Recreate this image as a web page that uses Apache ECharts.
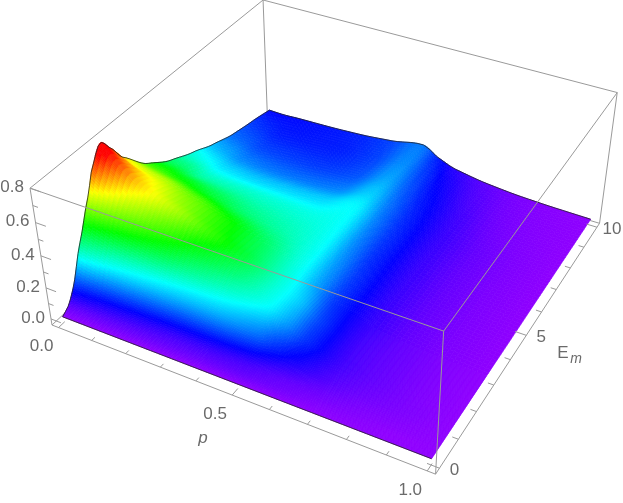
<!DOCTYPE html>
<html><head><meta charset="utf-8">
<style>html,body{margin:0;padding:0;background:#fff}#c{width:623px;height:503px}</style>
<script src="https://cdn.jsdelivr.net/npm/echarts@6/dist/echarts.min.js"></script>
</head><body><div id="c"></div>
<script>
const pValues=[0,.05,.1,.2,.3,.4,.5,.55,.6,.7,.8,.9,1];
const eValues=[0,.25,.5,1,1.5,1.8,2.2,2.6,3,4,5,6,7,8,9,10];
const zE0 =[0,0,0,0,0,0,0,0,0,0,0,0,0];
const zE025=[.03,.03,.03,.03,.03,.03,.03,.025,.02,.01,.005,0,0];
const zE05=[.10,.09,.08,.07,.06,.06,.05,.04,.03,.02,.01,.005,0];
const zE1 =[.33,.30,.27,.24,.22,.21,.17,.12,.085,.04,.02,.01,0];
const zE15=[.54,.50,.46,.40,.34,.30,.25,.19,.12,.05,.025,.01,0];
const zE18=[.68,.59,.53,.46,.39,.34,.26,.205,.125,.05,.025,.01,0];
const zE22=[.78,.68,.60,.52,.44,.37,.265,.215,.13,.05,.025,.01,0];
const zE26=[.70,.63,.58,.50,.43,.36,.265,.205,.125,.052,.025,.01,0];
const zE3 =[.60,.56,.54,.48,.42,.35,.26,.19,.12,.055,.025,.01,0];
const zE4 =[.44,.43,.41,.37,.33,.30,.255,.18,.12,.055,.025,.01,0];
const zE5 =[.34,.33,.30,.29,.28,.27,.25,.17,.115,.055,.025,.01,0];
const zE6 =[.27,.25,.23,.22,.22,.225,.245,.165,.115,.055,.025,.01,0];
const zE7 =[.205,.19,.17,.16,.16,.17,.215,.155,.11,.055,.025,.01,0];
const zE8 =[.155,.145,.13,.125,.125,.14,.19,.14,.10,.05,.02,.008,0];
const zE9 =[.125,.115,.105,.105,.11,.13,.175,.125,.085,.04,.016,.006,0];
const zE10=[.093,.09,.095,.10,.11,.13,.165,.105,.065,.03,.012,.004,0];
const zRows=[zE0,zE025,zE05,zE1,zE15,zE18,zE22,zE26,zE3,zE4,zE5,zE6,zE7,zE8,zE9,zE10];
const pTicks=[0,.1,.2,.3,.4,.5,.6,.7,.8,.9,1];
const eTicks=[0,1,2,3,4,5,6,7,8,9,10];
const zTicks=[0,.1,.2,.3,.4,.5,.6,.7,.8];
const pLabels=[[0,'0.0'],[.5,'0.5'],[1,'1.0']];
const eLabels=[[0,'0'],[5,'5'],[10,'10']];
const zLabels=[[0,'0.0'],[.2,'0.2'],[.4,'0.4'],[.6,'0.6'],[.8,'0.8']];

const zMaxColor=.73;
function project(p,E,z){
  const u=(p+.02)/1.04,v=(E+.2)/10.4,t=(z+.04)/.84;
  const w=1-.114*u+.212*v-.0705*t;
  return [(333.9*u+272.4*v-24.1*t+52)/w,(95.1*u-174.9*v-150.1*t+325)/w];
}
function cube(u,v,t){return project(u*1.04-.02,v*10.4-.2,t*.84-.04);}
function color(z){
  const tt=Math.max(0,Math.min(1,z/zMaxColor));
  const h=.76*(1-tt)*6,i=Math.floor(h),f=h-i;
  const q=Math.round(255*(1-f)),s=Math.round(255*f);
  const m=[[255,s,0],[q,255,0],[0,255,s],[0,q,255],[s,0,255],[255,0,q]][i%6];
  return 'rgb('+m.join(',')+')';
}
function slopes(xs,ys){
  return ys.map((y,i)=>{
    if(i===0)return (ys[1]-y)/(xs[1]-xs[0]);
    if(i===ys.length-1)return (y-ys[i-1])/(xs[i]-xs[i-1]);
    return .75*(ys[i+1]-ys[i-1])/(xs[i+1]-xs[i-1]);
  });
}
function herm(xs,ys,ms,x){
  let i=0;while(i<xs.length-2&&x>xs[i+1])i++;
  const h=xs[i+1]-xs[i],s=(x-xs[i])/h;
  return (2*s*s*s-3*s*s+1)*ys[i]+(s*s*s-2*s*s+s)*h*ms[i]+(-2*s*s*s+3*s*s)*ys[i+1]+(s*s*s-s*s)*h*ms[i+1];
}
const rowSlopes=zRows.map(r=>slopes(pValues,r));
const surfCache=new Map();
function surf(p,E){
  const key=p.toFixed(4)+'_'+E.toFixed(4);
  if(surfCache.has(key))return surfCache.get(key);
  const col=zRows.map((r,j)=>Math.max(0,herm(pValues,r,rowSlopes[j],p)));
  const v=Math.max(0,herm(eValues,col,slopes(eValues,col),E));
  surfCache.set(key,v);
  return v;
}
const cells=[];
for(let i=0;i<pValues.length-1;i++)for(let j=eValues.length-2;j>=0;j--)cells.push([i,j,zRows[j][i]]);
const chart=echarts.init(document.getElementById('c'),null,{renderer:'canvas'});
const lineStyle={stroke:'#9a9a9a',lineWidth:1,fill:null};
function seg(api,a,b,st){
  const A=api.coord(a),B=api.coord(b);
  return {type:'line',shape:{x1:A[0],y1:A[1],x2:B[0],y2:B[1]},style:st||lineStyle,silent:true};
}
function txt(api,pt,s,opt){
  const c=api.coord(pt);
  return {type:'text',x:c[0],y:c[1],style:Object.assign({text:s,fill:'#6a6a6a',font:'17px "Liberation Sans"',align:'center',verticalAlign:'middle'},opt||{}),silent:true};
}
const backSeries={type:'custom',coordinateSystem:'cartesian2d',z:1,data:[0],clip:false,renderItem(par,api){
  const L=[[0,0,0,0,1,0],[0,1,0,1,1,0],[0,1,0,0,1,1],[0,1,1,1,1,1],[0,1,1,0,0,1]];
  return {type:'group',children:L.map(s=>seg(api,cube(s[0],s[1],s[2]),cube(s[3],s[4],s[5])))};
}};
const surfaceSeries={type:'custom',coordinateSystem:'cartesian2d',z:2,clip:false,data:cells,progressive:0,renderItem(par,api){
  const i=api.value(0),j=api.value(1),p0=pValues[i],p1=pValues[i+1],e0=eValues[j],e1=eValues[j+1];
  const np=Math.ceil((p1-p0)/(p0>=.4&&p0<.7?.005:.0125)-1e-6),ne=Math.ceil((e1-e0)/(e0<3?.03:.125)-1e-6),ch=[];
  for(let a=0;a<np;a++)for(let b=ne-1;b>=0;b--){
    const pa=p0+(p1-p0)*a/np,pb=p0+(p1-p0)*(a+1)/np,ea=e0+(e1-e0)*b/ne,eb=e0+(e1-e0)*(b+1)/ne;
    const q=[[pa,ea],[pb,ea],[pb,eb],[pa,eb]],zs=q.map(k=>surf(k[0],k[1]));
    const pts=q.map((k,n)=>api.coord(project(k[0],k[1],zs[n])));
    const c=color((zs[0]+zs[1]+zs[2]+zs[3])/4);
    ch.push({type:'polygon',shape:{points:pts},style:{fill:c,stroke:c,lineWidth:.7},silent:true});
  }
  return {type:'group',children:ch};
}};
const edgeSeries={type:'custom',coordinateSystem:'cartesian2d',z:3,data:[0],clip:false,renderItem(par,api){
  const pe=[],ee=[],fe=[];
  for(let k=0;k<=50;k++){const p=k/50;ee.push(api.coord(project(p,10,surf(p,10))));fe.push(api.coord(project(p,0,0)));}
  for(let k=0;k<=80;k++){const E=k/8;pe.push(api.coord(project(0,E,surf(0,E))));}
  const st={stroke:'#222',lineWidth:.8,fill:null};
  return {type:'group',children:[pe,ee,fe].map(points=>({type:'polyline',shape:{points},style:st,silent:true}))};
}};
const frontSeries={type:'custom',coordinateSystem:'cartesian2d',z:4,data:[0],clip:false,renderItem(par,api){
  const L=[[0,0,0,1,0,0],[1,0,0,1,1,0],[0,0,0,0,0,1],[1,0,0,1,0,1],[1,1,0,1,1,1],[0,0,1,1,0,1],[1,0,1,1,1,1]];
  const ch=L.map(s=>seg(api,cube(s[0],s[1],s[2]),cube(s[3],s[4],s[5])));
  pTicks.forEach(p=>{const m=Math.abs(p*2%1)<1e-6;ch.push(seg(api,project(p,-.2,-.04),project(p,m?.05:-.07,-.04)));});
  eTicks.forEach(E=>{const m=E%5===0;ch.push(seg(api,project(1.02,E,-.04),project(m?.99:1.005,E,-.04)));});
  zTicks.forEach(z=>{const m=Math.round(z*10)%2===0;ch.push(seg(api,project(-.02,-.2,z),project(m?.01:-.005,-.2,z)));});
  return {type:'group',children:ch};
}};
const textSeries={type:'custom',coordinateSystem:'cartesian2d',z:5,data:[0],clip:false,renderItem(par,api){
  const ch=[];
  zLabels.forEach(l=>{const c=project(-.02,-.2,l[0]);ch.push(txt(api,[c[0]-18,c[1]-1],l[1]));});
  pLabels.forEach(l=>{const c=project(l[0],-.2,-.04);ch.push(txt(api,[c[0]-17,c[1]+19],l[1]));});
  eLabels.forEach(l=>{const c=project(1.02,l[0],-.04);ch.push(txt(api,[c[0]+15,c[1]+2],l[1]));});
  ch.push(txt(api,[203,438],'p',{font:'italic 17px "Liberation Sans"'}));
  ch.push(txt(api,[563,353],'E'));
  ch.push(txt(api,[576,359],'m',{font:'italic 14px "Liberation Sans"'}));
  return {type:'group',children:ch};
}};
chart.setOption({animation:false,backgroundColor:'#fff',
  grid:{left:0,right:0,top:0,bottom:0},
  xAxis:{type:'value',min:0,max:623,show:false},
  yAxis:{type:'value',min:0,max:503,inverse:true,show:false},
  series:[backSeries,surfaceSeries,edgeSeries,frontSeries,textSeries]});
</script></body></html>
